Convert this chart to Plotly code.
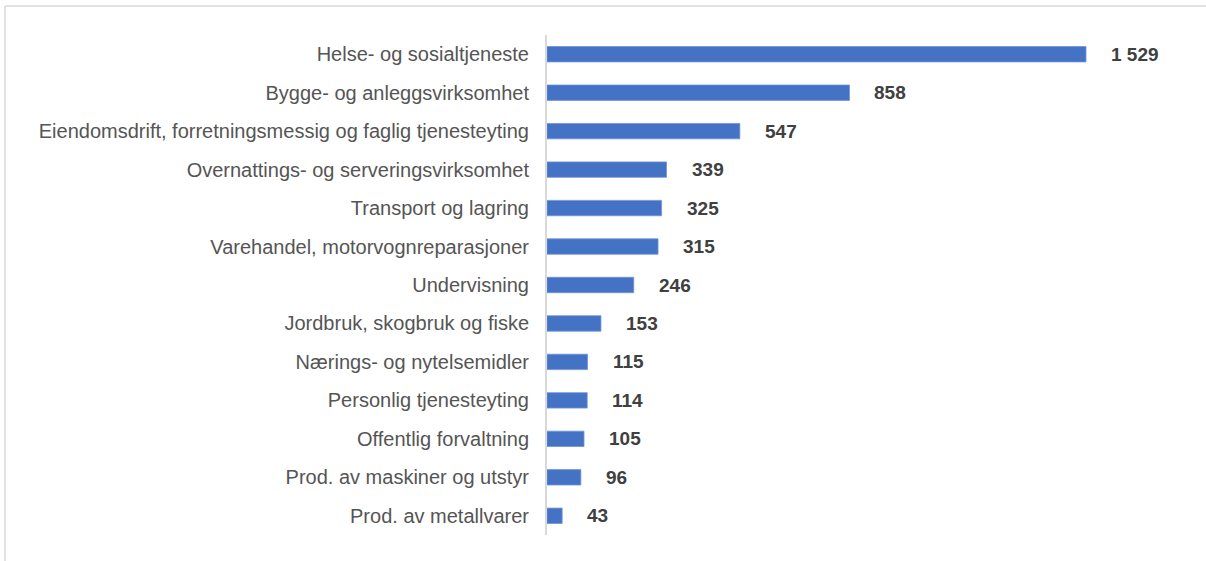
import plotly.graph_objects as go

categories = [
    "Helse- og sosialtjeneste",
    "Bygge- og anleggsvirksomhet",
    "Eiendomsdrift, forretningsmessig og faglig tjenesteyting",
    "Overnattings- og serveringsvirksomhet",
    "Transport og lagring",
    "Varehandel, motorvognreparasjoner",
    "Undervisning",
    "Jordbruk, skogbruk og fiske",
    "Nærings- og nytelsemidler",
    "Personlig tjenesteyting",
    "Offentlig forvaltning",
    "Prod. av maskiner og utstyr",
    "Prod. av metallvarer",
]
values = [1529, 858, 547, 339, 325, 315, 246, 153, 115, 114, 105, 96, 43]
value_labels = ["1 529", "858", "547", "339", "325", "315", "246", "153", "115", "114", "105", "96", "43"]

W, H = 1206, 561
L, R, T, B = 547, 16, 35, 26
plot_w = W - L - R
plot_h = H - T - B
px_per_unit = (1086 - 547) / 1529
xmax = plot_w / px_per_unit

FONT = "Liberation Sans, Arial, sans-serif"

fig = go.Figure()
fig.add_trace(go.Bar(
    x=values, y=categories, orientation="h",
    marker=dict(color="#4472C4", line=dict(color="#6f93d3", width=0.8)),
    width=0.4, hoverinfo="x+y",
))

for c, v, t in zip(categories, values, value_labels):
    fig.add_annotation(x=v, y=c, text="<b>%s</b>" % t, showarrow=False,
                       xanchor="left", xshift=23, yshift=0,
                       font=dict(family=FONT, size=19, color="#404040"))

# outer border lines (top and left)
top_y = (H - B - 6) / plot_h
left_x = (5 - L) / plot_w
fig.add_shape(type="line", xref="paper", yref="paper",
              x0=left_x, x1=(W + 5 - L) / plot_w, y0=top_y, y1=top_y,
              line=dict(color="#d9d9d9", width=1.5))
fig.add_shape(type="line", xref="paper", yref="paper",
              x0=left_x, x1=left_x, y0=top_y, y1=-(B + 10) / plot_h,
              line=dict(color="#d9d9d9", width=1.5))

fig.update_layout(
    width=W, height=H,
    margin=dict(l=L, r=R, t=T, b=B, pad=0),
    plot_bgcolor="white", paper_bgcolor="white",
    showlegend=False,
    font=dict(family=FONT, size=20, color="#595959"),
)
fig.update_xaxes(range=[0, xmax], visible=False, showgrid=False, zeroline=False)
fig.update_yaxes(autorange="reversed", showgrid=False, zeroline=False,
                 showline=True, linecolor="#d9d9d9", linewidth=2,
                 ticks="", ticklabelstandoff=12,
                 tickfont=dict(family=FONT, size=20, color="#555555"))

fig.write_html("out.html", config={"displayModeBar": False},
               post_script="document.body.style.margin='0';")
